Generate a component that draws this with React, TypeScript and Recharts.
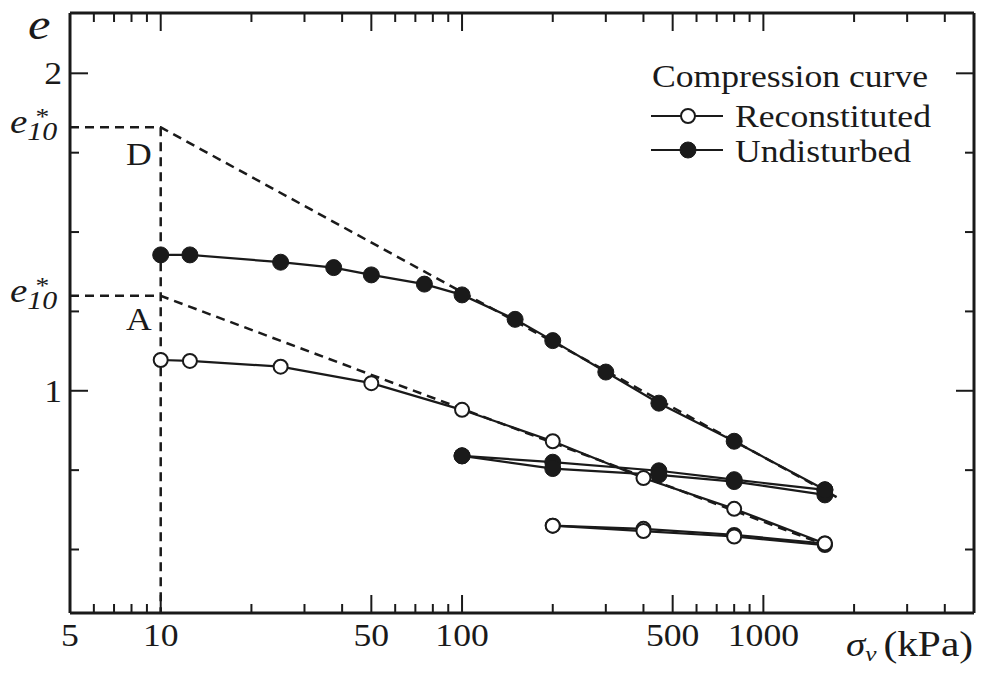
import { ComposedChart, Legend, Line, ReferenceDot, XAxis, YAxis } from "recharts";

const FONT = '"Liberation Serif", "Times New Roman", serif';
const INK = "#1a1a1a";
const SX = 1.15; // the scan is stretched a little horizontally

// axis ticks
const xTicks = [5, 6, 7, 8, 9, 10, 20, 30, 40, 50, 60, 70, 80, 90, 100, 200, 300, 400, 500, 600, 700, 800, 900, 1000, 2000, 3000, 4000, 5000];
const xMajor = [5, 10, 50, 100, 500, 1000];
const xLabels = [5, 10, 50, 100, 500, 1000];
const yTicks = [0.5, 0.75, 1, 1.25, 1.5, 1.75, 2];
const yMajor = [1, 2];
const yLabels = [1, 2];

// e*10 values for the two soils
const eStarD = 1.83;
const eStarA = 1.299;

// undisturbed: loading, unloading, reloading
const undLoadS = [10, 12.5, 25, 37.5, 50, 75, 100, 150, 200, 300, 450, 800, 1600];
const undLoadE = [1.428, 1.428, 1.405, 1.388, 1.365, 1.336, 1.302, 1.225, 1.158, 1.059, 0.961, 0.841, 0.688];
const undUnloadS = [1600, 800, 450, 200, 100];
const undUnloadE = [0.688, 0.72, 0.748, 0.775, 0.795];
const undReloadS = [100, 200, 450, 800, 1600];
const undReloadE = [0.795, 0.755, 0.735, 0.714, 0.672];

// reconstituted: loading, unloading, reloading
const recLoadS = [10, 12.5, 25, 50, 100, 200, 400, 800, 1600];
const recLoadE = [1.097, 1.094, 1.076, 1.024, 0.94, 0.841, 0.725, 0.628, 0.519];
const recUnloadS = [1600, 800, 400, 200];
const recUnloadE = [0.519, 0.546, 0.565, 0.575];
const recReloadS = [200, 400, 800, 1600];
const recReloadE = [0.575, 0.558, 0.541, 0.514];

// dashed construction lines
const dashDS = [5, 10, 1750];
const dashDE = [eStarD, eStarD, 0.665];
const dashAS = [5, 10, 1600];
const dashAE = [eStarA, eStarA, 0.515];
const dashVS = [10, 10];
const dashVE = [eStarD, 0.3];

const pts = (s: number[], e: number[]) => s.map((v, i) => ({ s: v, e: e[i] }));

const openDot = { r: 7, fill: "#fff", stroke: INK, strokeWidth: 2 };
const fullDot = { r: 8, fill: INK, stroke: INK, strokeWidth: 1 };

function Txt({ x, y, anchor = "start", size = 31, italic = false, children }: any) {
  return (
    <text
      fill={INK}
      fontFamily={FONT}
      fontSize={size}
      fontStyle={italic ? "italic" : "normal"}
      textAnchor={anchor}
      transform={`translate(${x} ${y}) scale(${SX} 1)`}
    >
      {children}
    </text>
  );
}

function BottomTick({ x, y, payload }: any) {
  const v = payload.value;
  return (
    <g>
      <line stroke={INK} strokeWidth={2} x1={x} x2={x} y1={y} y2={y - (xMajor.includes(v) ? 18 : 9)} />
      {xLabels.includes(v) && (
        <Txt anchor="middle" x={x} y={y + 33}>
          {v}
        </Txt>
      )}
    </g>
  );
}

function TopTick({ x, y, payload }: any) {
  const v = payload.value;
  return <line stroke={INK} strokeWidth={2} x1={x} x2={x} y1={y} y2={y + (xMajor.includes(v) ? 18 : 9)} />;
}

// e*10 written as one text: italic e, italic subscript 10, asterisk above
function EStar({ x, y }: any) {
  return (
    <Txt size={34} x={x - 60} y={y + 6}>
      <tspan fontStyle="italic">e</tspan>
      <tspan dy={7} fontSize={26} fontStyle="italic">
        10
      </tspan>
      <tspan dx={-19} dy={-16} fontSize={24}>
        *
      </tspan>
    </Txt>
  );
}

function LeftTick({ x, y, payload }: any) {
  const v = payload.value;
  if (v === eStarD || v === eStarA) return <EStar x={x} y={y} />;
  return (
    <g>
      <line stroke={INK} strokeWidth={2} x1={x} x2={x + (yMajor.includes(v) ? 18 : 9)} y1={y} y2={y} />
      {yLabels.includes(v) && (
        <Txt anchor="end" x={x - 8} y={y + 11}>
          {v}
        </Txt>
      )}
    </g>
  );
}

function RightTick({ x, y, payload }: any) {
  const v = payload.value;
  return <line stroke={INK} strokeWidth={2} x1={x} x2={x - (yMajor.includes(v) ? 18 : 9)} y1={y} y2={y} />;
}

function LegendBox() {
  return (
    <svg height={120} style={{ overflow: "visible" }} width={330}>
      <Txt x={12} y={37}>
        Compression curve
      </Txt>
      <line stroke={INK} strokeWidth={2} x1={11} x2={83} y1={66} y2={66} />
      <circle cx={48} cy={66} {...openDot} />
      <Txt x={95} y={77}>
        Reconstituted
      </Txt>
      <line stroke={INK} strokeWidth={2} x1={11} x2={83} y1={100} y2={100} />
      <circle cx={48} cy={100} {...fullDot} />
      <Txt x={95} y={112}>
        Undisturbed
      </Txt>
    </svg>
  );
}

const pointLabel = (text: string) => (props: any) => {
  const vb = props.viewBox;
  return (
    <Txt anchor="end" x={vb.x - 8} y={vb.y + 11}>
      {text}
    </Txt>
  );
};

export default function App() {
  const dash = { stroke: INK, strokeWidth: 2.5, strokeDasharray: "9 6", dot: false, activeDot: false, isAnimationActive: false };
  const curve = { activeDot: false, dataKey: "e", isAnimationActive: false, stroke: INK, strokeWidth: 2.2 };
  return (
    <div style={{ background: "#fff", height: 679, left: 0, position: "absolute", top: 0, width: 982 }}>
      <ComposedChart height={679} margin={{ bottom: 65, left: 69, right: 7, top: 12 }} width={982}>
        <XAxis
          allowDataOverflow
          axisLine={{ stroke: INK, strokeWidth: 3 }}
          dataKey="s"
          domain={[5, 5000]}
          height={1}
          interval={0}
          label={(p: any) => {
            const vb = p.viewBox;
            const right = vb.x + vb.width;
            return (
              <Txt size={34} x={right - 128} y={vb.y + 43}>
                <tspan fontStyle="italic">σ</tspan>
                <tspan dy={5} fontSize={22} fontStyle="italic">
                  v
                </tspan>
                <tspan dx={6} dy={-5} fontSize={36}>
                  (kPa)
                </tspan>
              </Txt>
            );
          }}
          scale="log"
          tick={<BottomTick />}
          tickLine={false}
          tickMargin={0}
          tickSize={0}
          ticks={xTicks}
          type="number"
        />
        <XAxis
          allowDataOverflow
          axisLine={{ stroke: INK, strokeWidth: 3 }}
          dataKey="s"
          domain={[5, 5000]}
          height={1}
          interval={0}
          orientation="top"
          scale="log"
          tick={<TopTick />}
          tickLine={false}
          tickMargin={0}
          tickSize={0}
          ticks={xTicks}
          type="number"
          xAxisId="top"
        />
        <YAxis
          allowDataOverflow
          axisLine={{ stroke: INK, strokeWidth: 3 }}
          domain={[0.3, 2.19]}
          interval={0}
          label={(p: any) => {
            const vb = p.viewBox;
            return (
              <Txt italic size={44} x={vb.x - 41} y={vb.y + 26}>
                e
              </Txt>
            );
          }}
          tick={<LeftTick />}
          tickLine={false}
          tickMargin={0}
          tickSize={0}
          ticks={[...yTicks, eStarA, eStarD]}
          type="number"
          width={1}
        />
        <YAxis
          allowDataOverflow
          axisLine={{ stroke: INK, strokeWidth: 3 }}
          domain={[0.3, 2.19]}
          interval={0}
          orientation="right"
          tick={<RightTick />}
          tickLine={false}
          tickMargin={0}
          tickSize={0}
          ticks={yTicks}
          type="number"
          width={1}
          yAxisId="right"
        />
        <Legend
          align="center"
          content={<LegendBox />}
          layout="vertical"
          verticalAlign="middle"
          wrapperStyle={{ left: 640, top: 50, width: 330, height: 120 }}
        />

        <Line data={pts(dashVS, dashVE)} dataKey="e" {...dash} />
        <Line data={pts(dashDS, dashDE)} dataKey="e" {...dash} />
        <Line data={pts(dashAS, dashAE)} dataKey="e" {...dash} />

        <Line data={pts(recUnloadS, recUnloadE)} dot={openDot} {...curve} />
        <Line data={pts(recReloadS, recReloadE)} dot={openDot} {...curve} />
        <Line data={pts(recLoadS, recLoadE)} dot={openDot} {...curve} />

        <Line data={pts(undUnloadS, undUnloadE)} dot={fullDot} {...curve} />
        <Line data={pts(undReloadS, undReloadE)} dot={fullDot} {...curve} />
        <Line data={pts(undLoadS, undLoadE)} dot={fullDot} {...curve} />

        <ReferenceDot fill="none" label={pointLabel("D")} r={1} stroke="none" x={10} y={1.742} />
        <ReferenceDot fill="none" label={pointLabel("A")} r={1} stroke="none" x={10} y={1.223} />
      </ComposedChart>
    </div>
  );
}
